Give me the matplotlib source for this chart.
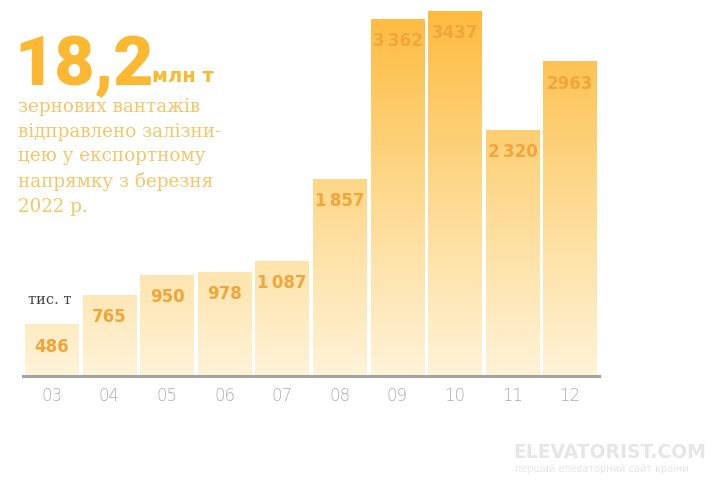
import numpy as np
import matplotlib
matplotlib.use("Agg")
import matplotlib.pyplot as plt
from matplotlib.colors import LinearSegmentedColormap

months = ["03", "04", "05", "06", "07", "08", "09", "10", "11", "12"]
values = [486, 765, 950, 978, 1087, 1857, 3362, 3437, 2320, 2963]
value_labels = ["486", "765", "950", "978", "1\u2009087", "1\u2009857", "3\u2009362", "3437", "2\u2009320", "2963"]

title_big = "18,2"
title_unit = "млн т"
subtitle = "зернових вантажів\nвідправлено залізни-\nцею у експортному\nнапрямку з березня\n2022 р."
unit_label = "тис. т"

W, H = 717, 482
fig = plt.figure(figsize=(W / 100, H / 100), dpi=100)
fig.patch.set_facecolor("white")

ax_left, ax_right = 23 / W, 599 / W
ax_bottom, ax_top = 1 - 376 / H, 1.0
ax = fig.add_axes([ax_left, ax_bottom, ax_right - ax_left, ax_top - ax_bottom])
ymax = 376 / 0.1062
ax.set_xlim(-0.5, 9.5)
ax.set_ylim(0, ymax)
ax.set_facecolor("none")
for s in ["top", "right", "left"]:
    ax.spines[s].set_visible(False)
ax.spines["bottom"].set_color("#a3a3a3")
ax.spines["bottom"].set_linewidth(2.2)
ax.set_yticks([])
ax.set_xticks(range(len(months)))
ax.set_xticklabels(months, fontsize=12, color="#acacac", family="DejaVu Sans",
                   fontweight="light")
ax.tick_params(axis="x", length=0, pad=8)

cmap = LinearSegmentedColormap.from_list("g", ["#fff3d8", "#fed98e", "#fdbb3f"])
width = 0.93
bars = ax.bar(range(len(values)), values, width=width, color="none", edgecolor="none")
for i, (b, v) in enumerate(zip(bars, values)):
    x0 = b.get_x()
    top = v / 3437.0
    g = np.linspace(0.0, top, 256).reshape(-1, 1)
    im = ax.imshow(g, cmap=cmap, vmin=0, vmax=1, aspect="auto", origin="lower",
                   extent=[x0, x0 + width, 0, v], zorder=1, interpolation="bilinear")
    im.set_clip_path(b)
    ax.text(i, v - 210, value_labels[i], ha="center", va="center",
            fontsize=12, fontweight="bold", color="#f2a53a", zorder=3,
            family="DejaVu Sans")

ax.text(-0.03, 720, unit_label, ha="center", va="center", fontsize=10.5,
        color="#444444", family="DejaVu Serif", zorder=3)

fig.text(14 / W, 1 - 85 / H, title_big, fontsize=50, fontweight="black",
         color="#fbb830", family="Roboto", va="baseline", ha="left")
fig.text(152 / W, 1 - 82 / H, title_unit, fontsize=14, fontweight="bold",
         color="#fbb830", family="DejaVu Sans", va="baseline", ha="left")
fig.text(18 / W, 1 - 98 / H, subtitle, fontsize=13.2, color="#f5c665",
         family="DejaVu Serif", fontweight="light", va="top", ha="left",
         linespacing=1.47)

fig.text(513 / W, 1 - 452 / H, "ELEVATORIST.COM", fontsize=13.5, color="#e6e6e6",
         family="DejaVu Sans Condensed", va="center", ha="left", fontweight="bold")
fig.text(515 / W, 1 - 469 / H, "перший елеваторний сайт країни", fontsize=7,
         color="#e6e6e6", family="DejaVu Sans", va="center", ha="left")

fig.savefig("out.png", dpi=100, facecolor="white")
